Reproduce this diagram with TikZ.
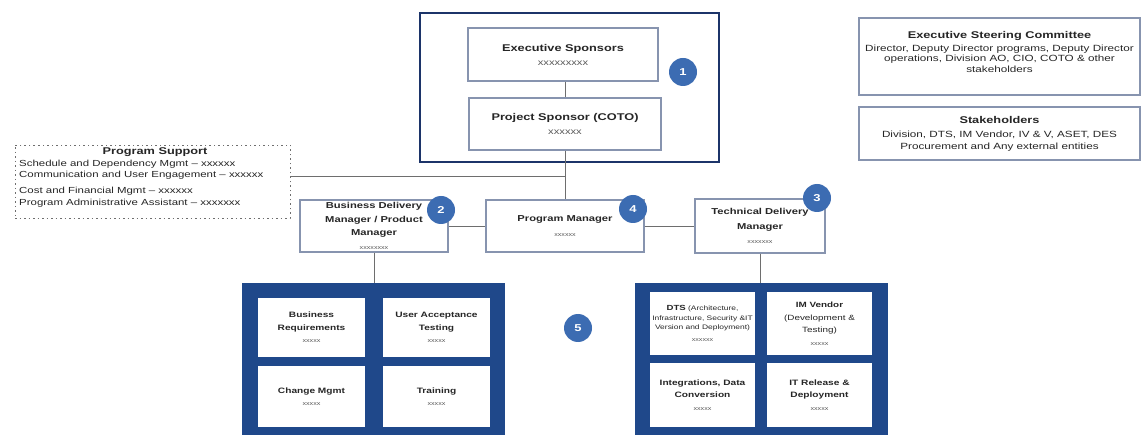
\documentclass[tikz,border=0pt]{standalone}
\usepackage{fontspec}
\setmainfont{Liberation Sans}[FakeStretch=1.3]
\usetikzlibrary{shadows}
\definecolor{navy}{RGB}{31,72,138}
\definecolor{topnavy}{RGB}{28,52,105}
\definecolor{numblue}{RGB}{60,108,178}
\definecolor{boxline}{RGB}{135,148,175}
\definecolor{txt}{RGB}{38,38,38}
\definecolor{conn}{RGB}{110,110,110}
\definecolor{xgray}{RGB}{90,90,90}
\newcommand{\fsz}[2]{\fontsize{#1}{#2}\selectfont}
\begin{document}
\begin{tikzpicture}[x=1pt,y=-1pt,
  gbox/.style={draw=boxline, line width=1.4pt, fill=white, inner sep=0pt, align=center, text=txt,
    drop shadow={opacity=0.18, shadow xshift=1.2pt, shadow yshift=-1.2pt}},
  cellbox/.style={fill=white, draw=none, inner sep=0pt, align=center, text=txt},
  numc/.style={circle, fill=numblue, text=white, minimum size=28pt, inner sep=0pt, font=\bfseries\fsz{10}{12}},
  conline/.style={draw=conn, line width=0.9pt},
  navybox/.style={fill=navy, draw=none, inner sep=0pt},
  pstext/.style={anchor=west, inner sep=0pt, text=txt, font=\fsz{8.8}{11}},
  plain/.style={inner sep=0pt, align=center, text=txt},
]
\useasboundingbox (0,0) rectangle (1142,435);
\fill[white] (0,0) rectangle (1142,435);

% top sponsor frame
\node[draw=topnavy, line width=2.4pt, minimum width=299pt, minimum height=149pt, inner sep=0pt] (topbox) at (569.5,87.5) {};
\node[gbox, minimum width=190pt, minimum height=53pt, font=\fsz{9.8}{14}] (es) at (563,54.5)
  {\bfseries Executive Sponsors\\{\color{xgray}\fsz{8.6}{14}xxxxxxxxx}};
\node[gbox, minimum width=192pt, minimum height=52pt, font=\fsz{9.8}{14}] (psp) at (565,124)
  {\bfseries Project Sponsor (COTO)\\{\color{xgray}\fsz{8.6}{14}xxxxxx}};
\node[numc] (n1) at (683,72) {1};

% right side boxes
\node[gbox, minimum width=281pt, minimum height=77pt] (esc) at (999.5,56.5) {};
\node[plain, font=\fsz{9}{10.5}] (esct) at (999.5,52)
  {{\bfseries\fsz{9.8}{12}Executive Steering Committee}\\[2pt]
   Director, Deputy Director programs, Deputy Director\\
   operations, Division AO, CIO, COTO \& other\\
   stakeholders};
\node[gbox, minimum width=281pt, minimum height=53pt, font=\fsz{9}{11.5}] (stk) at (999.5,133.5)
  {{\bfseries\fsz{9.8}{12}Stakeholders}\\[3pt]
   Division, DTS, IM Vendor, IV \& V, ASET, DES\\
   Procurement and Any external entities};

% program support
\node[draw=conn, dash pattern=on 1.5pt off 3pt, line width=0.8pt, minimum width=275pt, minimum height=73pt, inner sep=0pt] (pgs) at (152.5,181.5) {};
\node[plain, font=\bfseries\fsz{9.8}{12}] (pgst) at (155,152) {Program Support};
\node[pstext] (pg1) at (19,164) {Schedule and Dependency Mgmt -- xxxxxx};
\node[pstext] (pg2) at (19,175) {Communication and User Engagement -- xxxxxx};
\node[pstext] (pg3) at (19,191) {Cost and Financial Mgmt -- xxxxxx};
\node[pstext] (pg4) at (19,203) {Program Administrative Assistant -- xxxxxxx};

% middle row
\node[gbox, minimum width=148pt, minimum height=52pt, font=\bfseries\fsz{8.6}{13.5}] (bdm) at (374,226)
  {Business Delivery\\Manager / Product\\Manager\\{\mdseries\color{xgray}\fsz{5.5}{13}xxxxxxxx}};
\node[gbox, minimum width=158pt, minimum height=52pt, font=\bfseries\fsz{8.6}{15}] (pm) at (565,226)
  {Program Manager\\{\mdseries\color{xgray}\fsz{5.5}{15}xxxxxx}};
\node[gbox, minimum width=130pt, minimum height=54pt, font=\bfseries\fsz{8.6}{14.5}] (tdm) at (760,226)
  {Technical Delivery\\Manager\\{\mdseries\color{xgray}\fsz{5.5}{15}xxxxxxx}};
\node[numc] (n2) at (441,210) {2};
\node[numc] (n4) at (633,209) {4};
\node[numc] (n3) at (817,198) {3};

% bottom blocks
\node[navybox, minimum width=263pt, minimum height=152pt] (lblue) at (373.5,359) {};
\node[navybox, minimum width=253pt, minimum height=152pt] (rblue) at (761.5,359) {};

\node[cellbox, minimum width=107pt, minimum height=59pt, font=\bfseries\fsz{7.8}{12.5}] (c1) at (311.5,327.5)
  {Business\\Requirements\\{\mdseries\color{xgray}\fsz{5.5}{12.5}xxxxx}};
\node[cellbox, minimum width=107pt, minimum height=59pt, font=\bfseries\fsz{7.8}{12.5}] (c2) at (436.5,327.5)
  {User Acceptance\\Testing\\{\mdseries\color{xgray}\fsz{5.5}{12.5}xxxxx}};
\node[cellbox, minimum width=107pt, minimum height=61pt, font=\bfseries\fsz{7.8}{12.5}] (c3) at (311.5,396.5)
  {Change Mgmt\\{\mdseries\color{xgray}\fsz{5.5}{12.5}xxxxx}};
\node[cellbox, minimum width=107pt, minimum height=61pt, font=\bfseries\fsz{7.8}{12.5}] (c4) at (436.5,396.5)
  {Training\\{\mdseries\color{xgray}\fsz{5.5}{12.5}xxxxx}};

\node[cellbox, minimum width=105pt, minimum height=63pt, font=\fsz{6.5}{9.5}] (d1) at (702.5,323.5)
  {{\bfseries\fsz{7.4}{9.5}DTS} (Architecture,\\Infrastructure, Security \&IT\\Version and Deployment)\\[2.5pt]{\color{xgray}\fsz{5.5}{9.5}xxxxxx}};
\node[cellbox, minimum width=105pt, minimum height=63pt, font=\fsz{7.6}{12.5}] (d2) at (819.5,323.5)
  {{\bfseries IM Vendor}\\(Development \&\\Testing)\\{\color{xgray}\fsz{5.5}{12}xxxxx}};
\node[cellbox, minimum width=105pt, minimum height=64pt, font=\bfseries\fsz{7.8}{12.5}] (d3) at (702.5,395)
  {Integrations, Data\\Conversion\\{\mdseries\color{xgray}\fsz{5.5}{12.5}xxxxx}};
\node[cellbox, minimum width=105pt, minimum height=64pt, font=\bfseries\fsz{7.8}{12.5}] (d4) at (819.5,395)
  {IT Release \&\\Deployment\\{\mdseries\color{xgray}\fsz{5.5}{12.5}xxxxx}};
\node[numc] (n5) at (578,328) {5};

% connectors
\coordinate (j1) at (565,176);
\draw[conline] (es.south -| psp.north) -- (psp.north);
\draw[conline] (psp.south) -- (pm.north);
\draw[conline] (pgs.east |- j1) -- (j1);
\draw[conline] (bdm.east) -- (pm.west);
\draw[conline] (pm.east) -- (tdm.west);
\draw[conline] (bdm.south) -- (bdm.south |- lblue.north);
\draw[conline] (tdm.south) -- (tdm.south |- rblue.north);
\end{tikzpicture}
\end{document}
